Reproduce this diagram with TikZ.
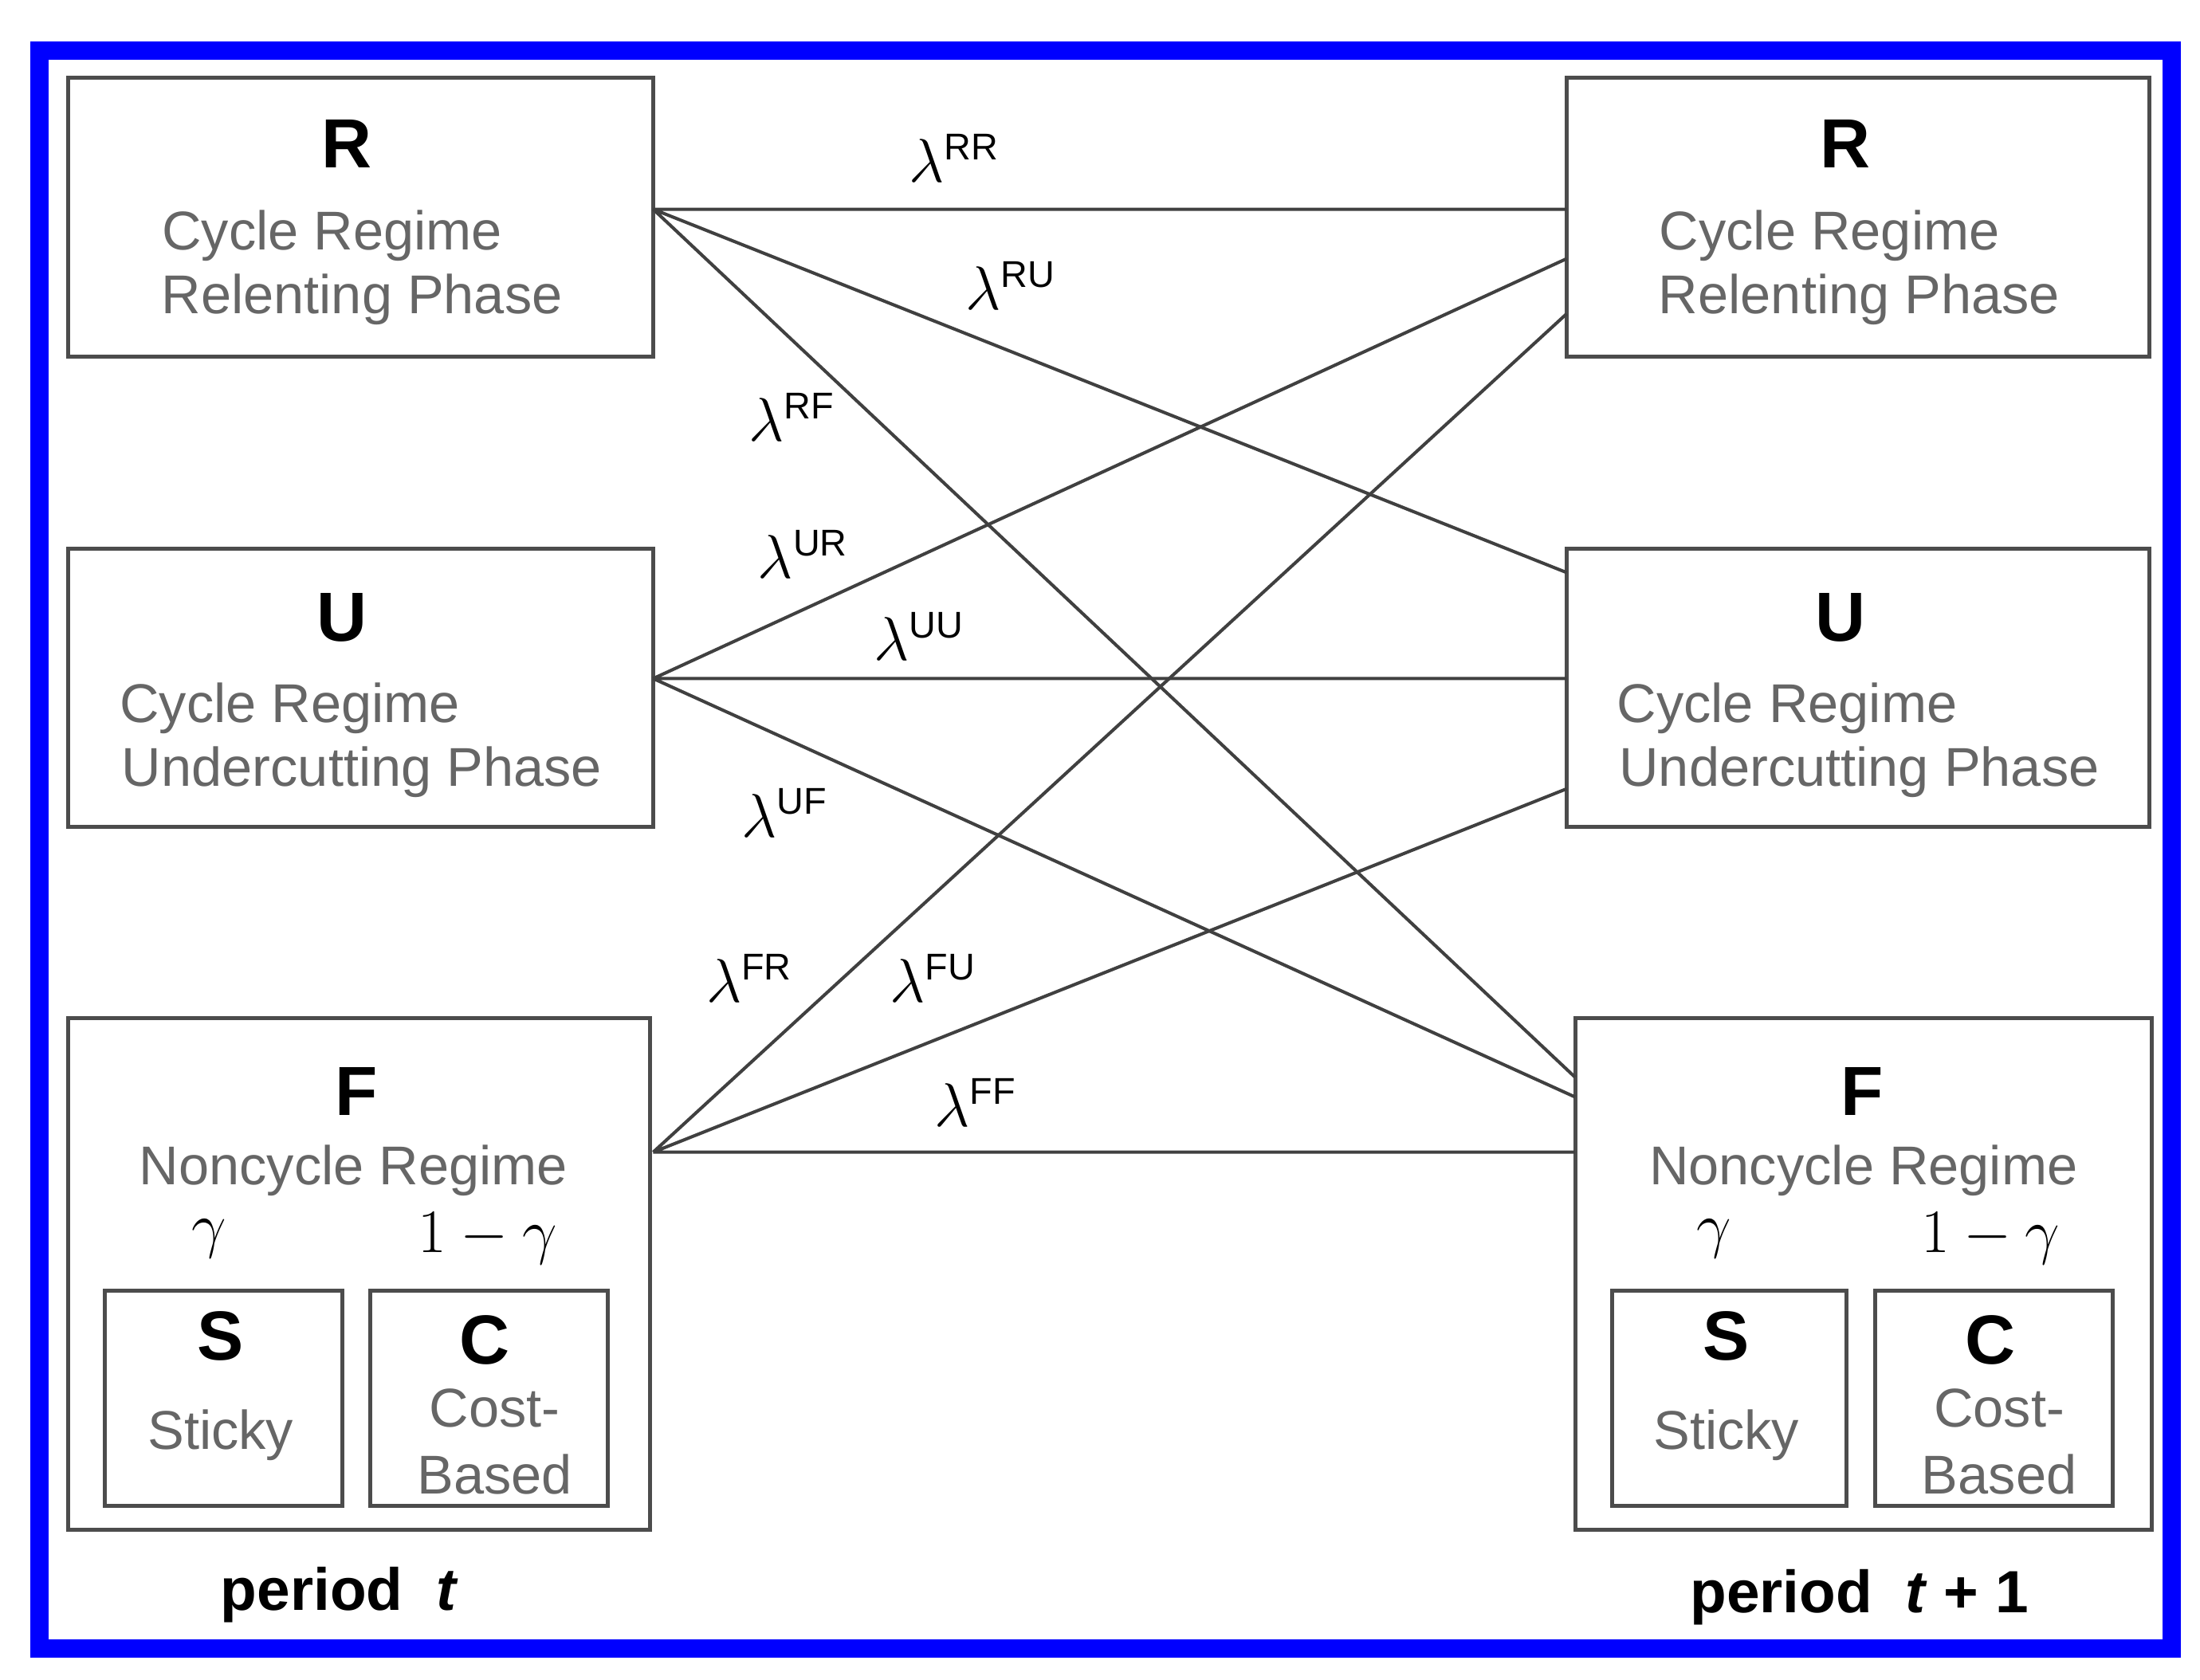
\documentclass[tikz,border=0pt]{standalone}
\usepackage{fontspec}
\setmainfont{Liberation Sans}
\begin{document}
\begin{tikzpicture}[x=0.02cm,y=-0.02cm,
 box/.style={draw=black!70,line width=1.6pt,inner sep=0pt},
 ln/.style={draw=black!75,line width=1.3pt},
 big/.style={font=\fontsize{28}{32}\selectfont\bfseries},
 txt/.style={text=black!60,font=\fontsize{22}{27}\selectfont,align=center},
 lam/.style={font=\fontsize{30}{34}\selectfont}]
\useasboundingbox (0,0) rectangle (1556,1188);
\fill[white] (0,0) rectangle (1556,1188);
\draw[blue,line width=0.26cm] (28,36) rectangle (1536,1166);
% boxes
\node[box,minimum width=414*0.02cm,minimum height=197*0.02cm] (Rl) at (255,153.5) {};
\node[box,minimum width=412*0.02cm,minimum height=197*0.02cm] (Rr) at (1314,153.5) {};
\node[box,minimum width=414*0.02cm,minimum height=197*0.02cm] (Ul) at (255,486.5) {};
\node[box,minimum width=412*0.02cm,minimum height=197*0.02cm] (Ur) at (1314,486.5) {};
\node[box,minimum width=412*0.02cm,minimum height=362*0.02cm] (Fl) at (254,901) {};
\node[box,minimum width=408*0.02cm,minimum height=362*0.02cm] (Fr) at (1318,901) {};
\node[box,minimum width=168*0.02cm,minimum height=152*0.02cm] (Sl) at (158,989) {};
\node[box,minimum width=168*0.02cm,minimum height=152*0.02cm] (Cl) at (346,989) {};
\node[box,minimum width=166*0.02cm,minimum height=152*0.02cm] (Sr) at (1223,989) {};
\node[box,minimum width=168*0.02cm,minimum height=152*0.02cm] (Cr) at (1410,989) {};
% texts left
\node[big] (tR1) at (245,102) {R};
\node[txt] (cR1) at (235,167) {Cycle Regime};
\node[txt] (pR1) at (256,212) {Relenting Phase};
\node[big] (tU1) at (242,437) {U};
\node[txt] (cU1) at (205,501) {Cycle Regime};
\node[txt] (pU1) at (256,546) {Undercutting Phase};
\node[big] (tF1) at (252,772) {F};
\node[txt] (nF1) at (250,828) {Noncycle Regime};
\node[font=\fontsize{30}{34}\selectfont] (g1) at (148,876) {$\gamma$};
\node[font=\fontsize{30}{34}\selectfont] (h1) at (345,876) {$1-\gamma$};
\node[big] (s1) at (156,945) {S};
\node[txt] (s1t) at (156,1015) {Sticky};
\node[big] (c1) at (343,948) {C};
\node[txt] (c1t) at (350,1020) {Cost-\\Based};
\node[font=\fontsize{24}{28}\selectfont\bfseries] (p1) at (240,1128) {period \ \textit{t}};
% texts right
\node[big] (tR2) at (1305,102) {R};
\node[txt] (cR2) at (1294,167) {Cycle Regime};
\node[txt] (pR2) at (1315,212) {Relenting Phase};
\node[big] (tU2) at (1302,437) {U};
\node[txt] (cU2) at (1264,501) {Cycle Regime};
\node[txt] (pU2) at (1315,546) {Undercutting Phase};
\node[big] (tF2) at (1317,772) {F};
\node[txt] (nF2) at (1318,828) {Noncycle Regime};
\node[font=\fontsize{30}{34}\selectfont] (g2) at (1212,876) {$\gamma$};
\node[font=\fontsize{30}{34}\selectfont] (h2) at (1408,876) {$1-\gamma$};
\node[big] (s2) at (1221,945) {S};
\node[txt] (s2t) at (1221,1015) {Sticky};
\node[big] (c2) at (1408,948) {C};
\node[txt] (c2t) at (1414,1020) {Cost-\\Based};
\node[font=\fontsize{24}{28}\selectfont\bfseries] (p2) at (1315,1130) {period \ \textit{t} + 1};
% anchor coordinates
\coordinate (a1) at (462,148); \coordinate (a2) at (462,480); \coordinate (a3) at (462,815);
\coordinate (rR1) at (1108,148); \coordinate (rR2) at (1108,183); \coordinate (rR3) at (1108,222);
\coordinate (rU1) at (1108,405); \coordinate (rU2) at (1108,480); \coordinate (rU3) at (1108,558);
\coordinate (rF1) at (1114,762); \coordinate (rF2) at (1114,776); \coordinate (rF3) at (1114,815);
\draw[ln] (a1)--(rR1) (a1)--(rU1) (a1)--(rF1);
\draw[ln] (a2)--(rR2) (a2)--(rU2) (a2)--(rF2);
\draw[ln] (a3)--(rR3) (a3)--(rU3) (a3)--(rF3);
% lambdas
\node[lam] (lRR) at (675,112) {$\lambda^{\mathrm{\scriptscriptstyle RR}}$};
\node[lam] (lRU) at (715,202) {$\lambda^{\mathrm{\scriptscriptstyle RU}}$};
\node[lam] (lRF) at (560,295) {$\lambda^{\mathrm{\scriptscriptstyle RF}}$};
\node[lam] (lUR) at (568,392) {$\lambda^{\mathrm{\scriptscriptstyle UR}}$};
\node[lam] (lUU) at (650,450) {$\lambda^{\mathrm{\scriptscriptstyle UU}}$};
\node[lam] (lUF) at (555,575) {$\lambda^{\mathrm{\scriptscriptstyle UF}}$};
\node[lam] (lFR) at (530,692) {$\lambda^{\mathrm{\scriptscriptstyle FR}}$};
\node[lam] (lFU) at (660,692) {$\lambda^{\mathrm{\scriptscriptstyle FU}}$};
\node[lam] (lFF) at (690,780) {$\lambda^{\mathrm{\scriptscriptstyle FF}}$};
\end{tikzpicture}
\end{document}
